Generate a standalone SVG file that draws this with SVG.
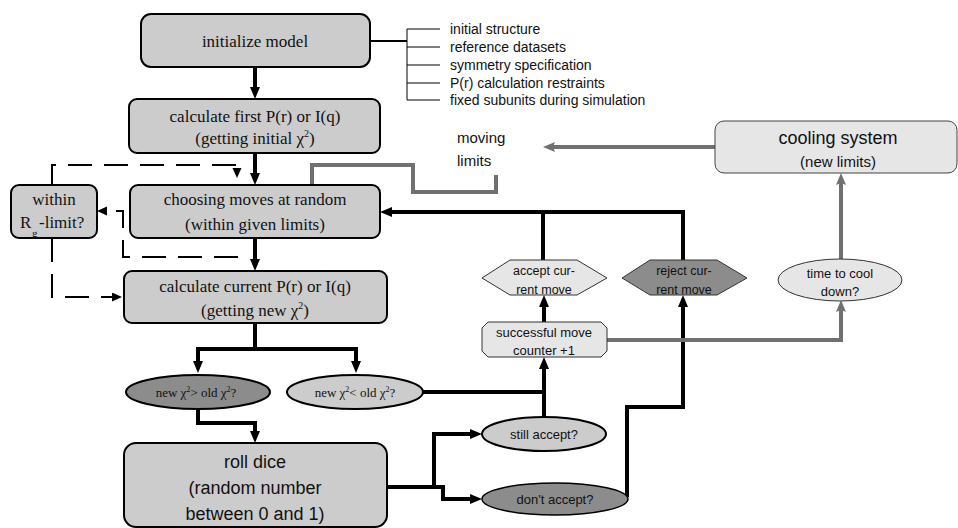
<svg xmlns="http://www.w3.org/2000/svg" width="958" height="528" viewBox="0 0 958 528">
<style>
.box{fill:#cccccc;stroke:#000;stroke-width:2}
.lt{fill:#e6e6e6;stroke:#333;stroke-width:1}
.dk{fill:#8c8c8c;stroke:#333;stroke-width:1}
.serif{font-family:"Liberation Serif","Times New Roman",serif;font-size:17px;fill:#111;text-anchor:middle}
.sl{text-anchor:start}
.sans{font-family:"Liberation Sans",Arial,sans-serif;fill:#111}
.blk{fill:none;stroke:#000;stroke-width:4}
.gry{fill:none;stroke:#707070;stroke-width:4}
.dsh{fill:none;stroke:#000;stroke-width:2;stroke-dasharray:24 12}
.thin{fill:none;stroke:#000;stroke-width:1}
</style>
<defs>
<marker id="ab" markerUnits="userSpaceOnUse" markerWidth="12" markerHeight="12" refX="4" refY="5" orient="auto"><path d="M0,0 L12,5 L0,10 z" fill="#000"/></marker>
<marker id="ag" markerUnits="userSpaceOnUse" markerWidth="16" markerHeight="12" refX="4" refY="5" orient="auto"><path d="M0,0 L12,5 L0,10 L2,5 z" fill="#707070"/></marker>
<marker id="ad" markerUnits="userSpaceOnUse" markerWidth="12" markerHeight="10" refX="2" refY="4.5" orient="auto"><path d="M0,0 L10,4.5 L0,9 z" fill="#000"/></marker>
</defs>

<g id="connectors">
<path class="blk" d="M255,67 V91" marker-end="url(#ab)"/>
<path class="blk" d="M255,153 V177" marker-end="url(#ab)"/>
<path class="blk" d="M255,238 V263" marker-end="url(#ab)"/>
<path class="blk" d="M255,323 V349"/>
<path class="blk" d="M196,349 H358"/>
<path class="blk" d="M198,349 V365" marker-end="url(#ab)"/>
<path class="blk" d="M356,349 V365" marker-end="url(#ab)"/>
<path class="blk" d="M198,409 V423 H255 V435" marker-end="url(#ab)"/>
<path class="blk" d="M423,392 H544"/>
<path class="blk" d="M544,417 V365" marker-end="url(#ab)"/>
<path class="blk" d="M544,322 V303" marker-end="url(#ab)"/>
<path class="blk" d="M543,260 V212"/>
<path class="blk" d="M683,260 V212"/>
<path class="blk" d="M685,212 H388" marker-end="url(#ab)"/>
<path class="blk" d="M627,497 V407 H683 V303" marker-end="url(#ab)"/>
<path class="blk" d="M387,487 H434 V434 H474" marker-end="url(#ab)"/>
<path class="blk" d="M434,487 H443 V499 H474" marker-end="url(#ab)"/>
<path class="gry" d="M715,147 H551" marker-end="url(#ag)"/>
<path class="gry" d="M312,185 V165 H413 V192 H496 V175"/>
<path class="gry" d="M841,259 V181" marker-end="url(#ag)"/>
<path class="gry" d="M607,340 H841 V308" marker-end="url(#ag)"/>
<path class="dsh" d="M52,185 V165 H237 V170" marker-end="url(#ad)"/>
<path class="dsh" d="M238,257 H123 V211 H105" marker-end="url(#ad)"/>
<path class="dsh" d="M52,238 V297 H114" marker-end="url(#ad)"/>
<path d="M370,41 H407" fill="none" stroke="#000" stroke-width="2"/>
<path class="thin" d="M440,29 H407 V100 H440 M407,47 H440 M407,65 H440 M407,83 H440"/>
</g>

<g id="init">
<rect class="box" x="141" y="14" width="229" height="53" rx="10"/>
<text class="serif" x="255" y="47">initialize model</text>
</g>

<g id="inputs" class="sans" font-size="14">
<text x="450" y="34">initial structure</text>
<text x="450" y="52">reference datasets</text>
<text x="450" y="70">symmetry specification</text>
<text x="450" y="88">P(r) calculation restraints</text>
<text x="450" y="105">fixed subunits during simulation</text>
</g>

<g id="calcFirst">
<rect class="box" x="129" y="99" width="251" height="54" rx="8"/>
<text class="serif" x="255" y="122">calculate first P(r) or I(q)</text>
<text class="serif" x="255" y="144">(getting initial χ<tspan font-size="10" dy="-7">2</tspan><tspan dy="7">)</tspan></text>
</g>

<g id="choosing">
<rect class="box" x="130" y="185" width="250" height="53" rx="8"/>
<text class="serif" x="255" y="205">choosing moves at random</text>
<text class="serif" x="255" y="230">(within given limits)</text>
</g>

<g id="within">
<rect class="box" x="11" y="185" width="86" height="53" rx="8"/>
<text class="serif" x="54" y="205">within</text>
<text class="serif sl" x="20" y="228">R</text>
<text class="serif sl" x="32" y="237" style="font-size:11px">g</text>
<text class="serif sl" x="39" y="228">-limit?</text>
</g>

<g id="calcCurrent">
<rect class="box" x="124" y="271" width="263" height="52" rx="8"/>
<text class="serif" x="255" y="292">calculate current P(r) or I(q)</text>
<text class="serif" x="255" y="316">(getting new χ<tspan font-size="10" dy="-7">2</tspan><tspan dy="7">)</tspan></text>
</g>

<g id="gtOld">
<ellipse cx="198" cy="392" rx="72" ry="17" fill="#8c8c8c" stroke="#000" stroke-width="2"/>
<text class="serif" x="196" y="397" style="font-size:13px">new χ<tspan font-size="8" dy="-5">2</tspan><tspan dy="5">&gt; old χ</tspan><tspan font-size="8" dy="-5">2</tspan><tspan dy="5">?</tspan></text>
</g>

<g id="ltOld">
<ellipse cx="355" cy="392" rx="68" ry="17" fill="#cccccc" stroke="#000" stroke-width="2"/>
<text class="serif" x="355" y="397" style="font-size:13px">new χ<tspan font-size="8" dy="-5">2</tspan><tspan dy="5">&lt; old χ</tspan><tspan font-size="8" dy="-5">2</tspan><tspan dy="5">?</tspan></text>
</g>

<g id="rollDice">
<rect class="box" x="124" y="443" width="263" height="84" rx="12"/>
<text class="sans" x="255" y="468" font-size="18" text-anchor="middle">roll dice</text>
<text class="sans" x="255" y="494" font-size="18" text-anchor="middle">(random number</text>
<text class="sans" x="255" y="520" font-size="18" text-anchor="middle">between 0 and 1)</text>
</g>

<g id="stillAccept">
<ellipse cx="544" cy="434" rx="62" ry="17" fill="#cccccc" stroke="#000" stroke-width="2"/>
<text class="sans" x="544" y="439" font-size="13" text-anchor="middle">still accept?</text>
</g>

<g id="dontAccept">
<ellipse cx="555" cy="499" rx="73" ry="16" fill="#8c8c8c" stroke="#000" stroke-width="1.5"/>
<text class="sans" x="555" y="504" font-size="13" text-anchor="middle">don't accept?</text>
</g>

<g id="successful">
<path class="lt" d="M488,322 H601 L607,328 V351 L601,357 H488 L482,351 V328 z"/>
<text class="sans" x="544" y="337" font-size="13" text-anchor="middle">successful move</text>
<text class="sans" x="544" y="355" font-size="13" text-anchor="middle">counter +1</text>
</g>

<g id="accept">
<path class="lt" d="M482,278 L510,260 H577 L607,278 L577,295 H510 z"/>
<text class="sans" x="544" y="275" font-size="12.5" text-anchor="middle">accept cur-</text>
<text class="sans" x="544" y="294" font-size="12.5" text-anchor="middle">rent move</text>
</g>

<g id="reject">
<path class="dk" d="M622,278 L650,260 H717 L747,278 L717,295 H650 z"/>
<text class="sans" x="684" y="275" font-size="12.5" text-anchor="middle">reject cur-</text>
<text class="sans" x="684" y="294" font-size="12.5" text-anchor="middle">rent move</text>
</g>

<g id="timeCool">
<ellipse class="lt" cx="840" cy="280" rx="62" ry="21"/>
<text class="sans" x="840" y="278" font-size="13" text-anchor="middle">time to cool</text>
<text class="sans" x="840" y="296" font-size="13" text-anchor="middle">down?</text>
</g>

<g id="cooling">
<rect x="715" y="121" width="242" height="52" rx="9" fill="#e6e6e6" stroke="#444" stroke-width="1"/>
<text class="sans" x="838" y="144" font-size="18" text-anchor="middle">cooling system</text>
<text class="sans" x="838" y="167" font-size="15" text-anchor="middle">(new limits)</text>
</g>

<g id="movingLimits" class="sans" font-size="15">
<text x="457" y="143">moving</text>
<text x="457" y="166">limits</text>
</g>
</svg>
